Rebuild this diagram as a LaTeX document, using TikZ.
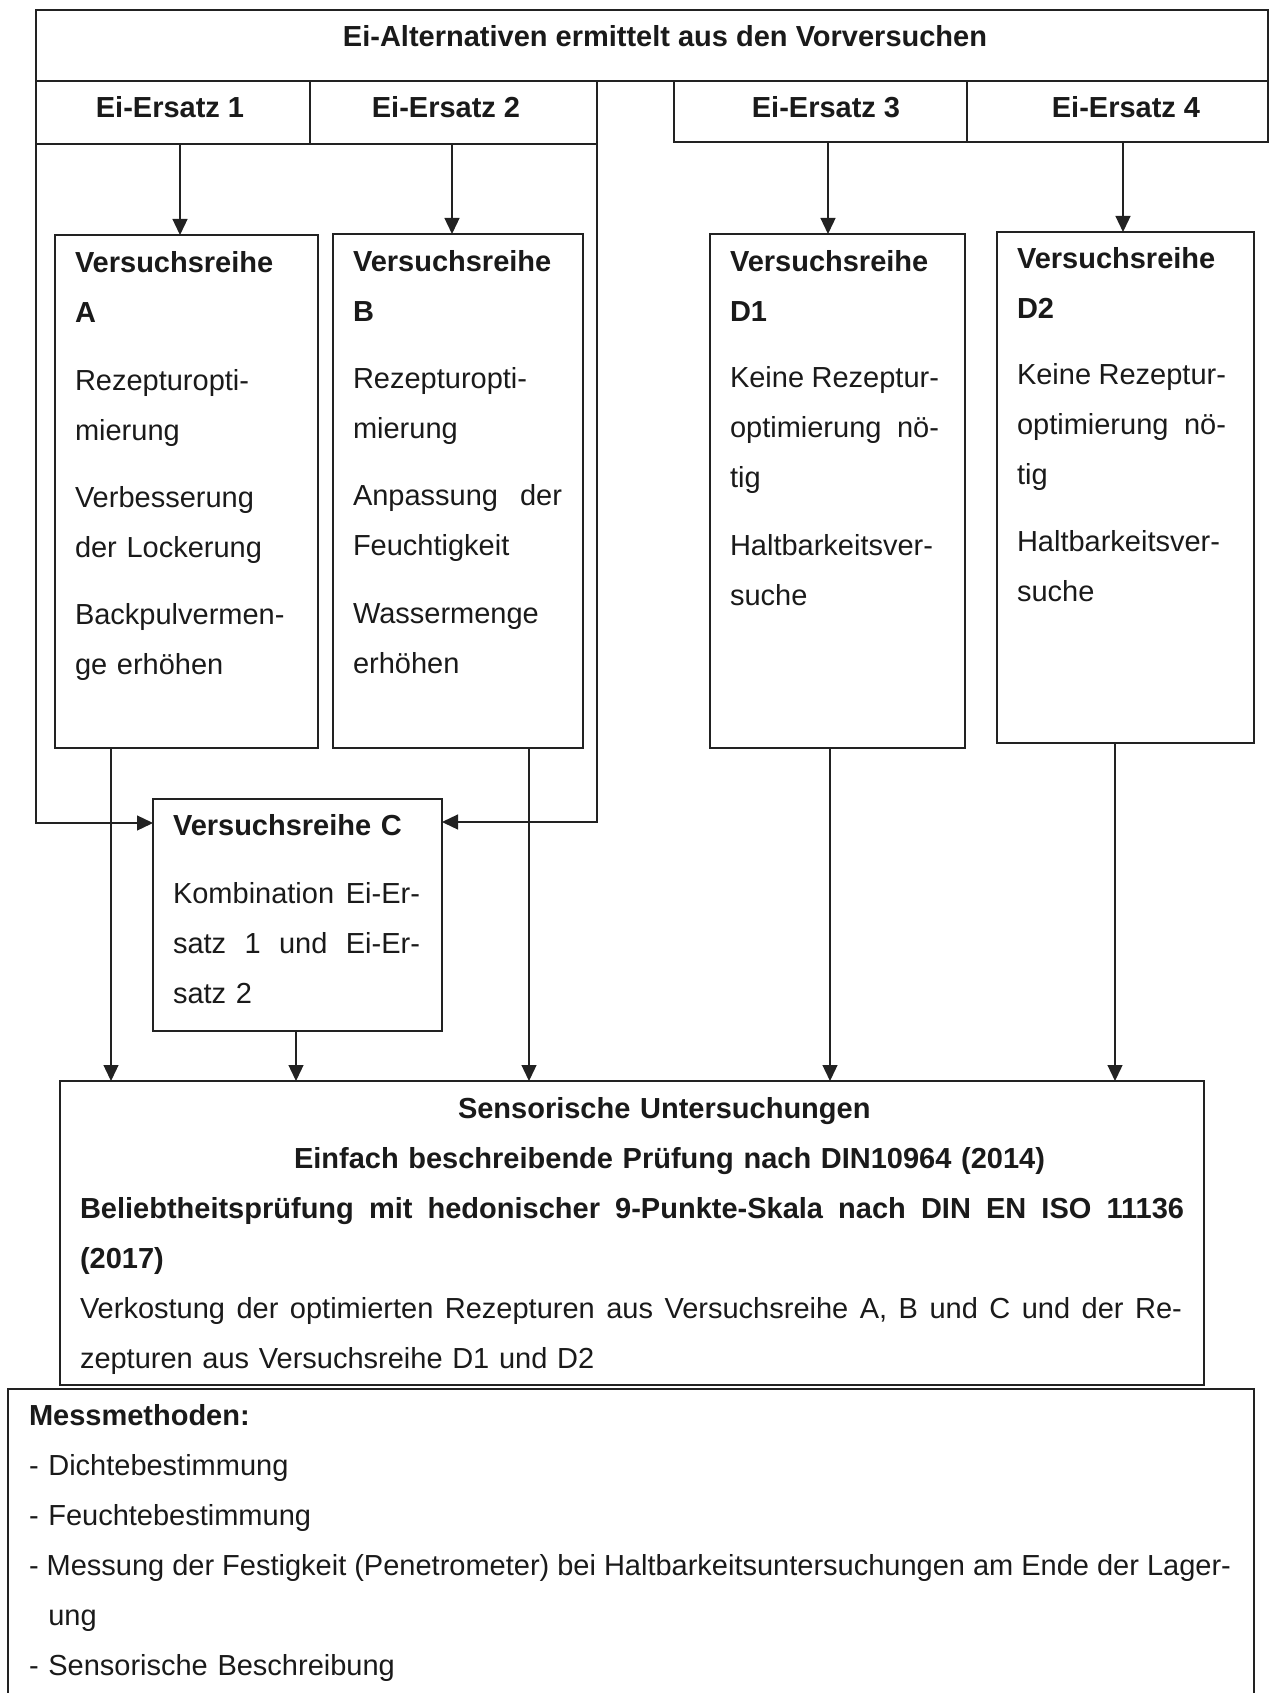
\documentclass[tikz,border=0pt]{standalone}
\usepackage{fontspec}
\setmainfont{Liberation Sans}
\usetikzlibrary{arrows.meta}
\newcommand{\jline}[2]{{\spaceskip=0.278em plus 1fil minus 0.05em\relax\xspaceskip=0.278em plus 1fil minus 0.05em\relax\makebox[#1][s]{#2}}}
\definecolor{ln}{HTML}{222222}
\definecolor{tx}{HTML}{1A1A1A}
\begin{document}
\begin{tikzpicture}[x=1pt,y=-1pt,
  frame/.style={draw=ln, line width=1.3pt, inner sep=0pt, outer sep=0pt, anchor=north west},
  arr/.style={draw=ln, line width=1.3pt, -{Triangle[length=16pt,width=15pt]}},
  txt/.style={anchor=base west, inner sep=0pt, outer sep=0pt, text=tx, align=left, font=\fontsize{29}{50}\selectfont},
  hd/.style={anchor=base, inner sep=0pt, outer sep=0pt, text=tx, font=\fontsize{29}{35}\selectfont\bfseries}]
\useasboundingbox (0,0) rectangle (1269,1693);

% top boxes
\node[frame, minimum width=1232pt, minimum height=71pt] (T) at (36,10) {};
\node[frame, minimum width=274pt, minimum height=63pt] (E1) at (36,81) {};
\node[frame, minimum width=287pt, minimum height=63pt] (E2) at (310,81) {};
\node[frame, minimum width=293pt, minimum height=61pt] (E3) at (674,81) {};
\node[frame, minimum width=301pt, minimum height=61pt] (E4) at (967,81) {};

\node[hd] (Tt) at (665,47) {Ei-Alternativen ermittelt aus den Vorversuchen};
\node[hd] (E1t) at (170,118) {Ei-Ersatz 1};
\node[hd] (E2t) at (446,118) {Ei-Ersatz 2};
\node[hd] (E3t) at (826,118) {Ei-Ersatz 3};
\node[hd] (E4t) at (1126,118) {Ei-Ersatz 4};

% Versuchsreihe boxes
\node[frame, minimum width=263pt, minimum height=513pt] (A) at (55,235) {};
\node[frame, minimum width=250pt, minimum height=514pt] (B) at (333,234) {};
\node[frame, minimum width=255pt, minimum height=514pt] (D1) at (710,234) {};
\node[frame, minimum width=257pt, minimum height=511pt] (D2) at (997,232) {};
\node[frame, minimum width=289pt, minimum height=232pt] (C) at (153,799) {};
\node[frame, minimum width=1144pt, minimum height=304pt] (S) at (60,1081) {};
\node[inner sep=0pt, outer sep=0pt, anchor=north west, minimum width=1246pt, minimum height=304pt] (M) at (8,1389) {};
\draw[ln, line width=1.3pt] (M.south west) -- (M.north west) -- (M.north east) -- (M.south east);

\node[txt, text width=240pt] (At) at (75,273) {\textbf{Versuchsreihe}\\ \textbf{A}\\[17pt]
Rezepturopti-\\ mierung\\[17pt]
Verbesserung\\ der Lockerung\\[17pt]
Backpulvermen-\\ ge erhöhen};

\node[txt, text width=240pt] (Bt) at (353,272) {\textbf{Versuchsreihe}\\ \textbf{B}\\[17pt]
Rezepturopti-\\ mierung\\[17pt]
\jline{209pt}{Anpassung der}\\ Feuchtigkeit\\[17pt]
Wassermenge\\ erhöhen};

\node[txt, text width=240pt] (D1t) at (730,272) {\textbf{Versuchsreihe}\\ \textbf{D1}\\[16pt]
\jline{209pt}{Keine Rezeptur-}\\ \jline{209pt}{optimierung nö-}\\ tig\\[17pt]
Haltbarkeitsver-\\ suche};

\node[txt, text width=240pt] (D2t) at (1017,269) {\textbf{Versuchsreihe}\\ \textbf{D2}\\[16pt]
\jline{209pt}{Keine Rezeptur-}\\ \jline{209pt}{optimierung nö-}\\ tig\\[17pt]
Haltbarkeitsver-\\ suche};

\node[txt, text width=270pt] (Ct) at (173,835) {\textbf{Versuchsreihe C}\\[18pt]
\jline{247pt}{Kombination Ei-Er-}\\ \jline{247pt}{satz 1 und Ei-Er-}\\ satz 2};

\node[txt, text width=1130pt] (St) at (80,1118) {\hspace*{378pt}\textbf{Sensorische Untersuchungen}\\
\hspace*{214pt}\textbf{Einfach beschreibende Prüfung nach DIN10964 (2014)}\\
\jline{1104pt}{\textbf{Beliebtheitsprüfung mit hedonischer 9-Punkte-Skala nach DIN EN ISO 11136}}\\
\textbf{(2017)}\\
\jline{1102pt}{Verkostung der optimierten Rezepturen aus Versuchsreihe A, B und C und der Re-}\\
zepturen aus Versuchsreihe D1 und D2};

\node[txt, text width=1235pt] (Mt) at (29,1425) {\textbf{Messmethoden:}\\
- Dichtebestimmung\\
- Feuchtebestimmung\\
\jline{1202pt}{- Messung der Festigkeit (Penetrometer) bei Haltbarkeitsuntersuchungen am Ende der Lager-}\\
\phantom{- }ung\\
- Sensorische Beschreibung};

% arrows from Ei-Ersatz to Versuchsreihen
\draw[arr] ([xshift=144pt]E1.south west) -- ([xshift=125pt]A.north west);
\draw[arr] ([xshift=142pt]E2.south west) -- ([xshift=119pt]B.north west);
\draw[arr] ([xshift=154pt]E3.south west) -- ([xshift=118pt]D1.north west);
\draw[arr] ([xshift=156pt]E4.south west) -- ([xshift=126pt]D2.north west);

% frame connectors to C
\draw[arr] (E1.south west) |- ([yshift=-24pt]C.north west);
\draw[arr] (E2.south east) |- ([yshift=-23pt]C.north east);

% arrows into Sensorische Untersuchungen
\draw[arr] ([xshift=56pt]A.south west) -- ([xshift=51pt]S.north west);
\draw[arr] ([xshift=143pt]C.south west) -- ([xshift=236pt]S.north west);
\draw[arr] ([xshift=196pt]B.south west) -- ([xshift=469pt]S.north west);
\draw[arr] ([xshift=120pt]D1.south west) -- ([xshift=770pt]S.north west);
\draw[arr] ([xshift=118pt]D2.south west) -- ([xshift=1055pt]S.north west);
\end{tikzpicture}
\end{document}
